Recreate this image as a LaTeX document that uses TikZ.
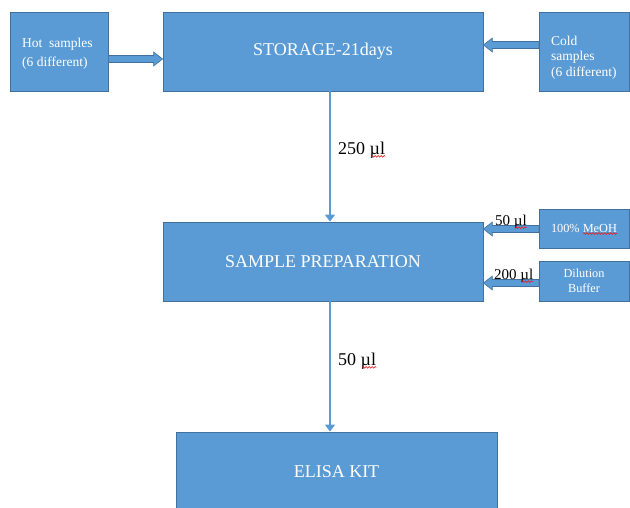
\documentclass[tikz,border=0pt]{standalone}
\usepackage{fontspec}
\setmainfont{Liberation Serif}
\usetikzlibrary{calc,arrows.meta,decorations.pathmorphing}
\definecolor{boxfill}{HTML}{5B9BD5}
\definecolor{boxline}{HTML}{41719C}
\definecolor{wavyred}{HTML}{E02020}
\tikzset{
  box/.style={draw=boxline, fill=boxfill, line width=0.8pt, text=white, inner sep=0pt, align=center},
  bigbox/.style={box, minimum width=320pt, minimum height=79pt, font=\fontsize{18}{22}\selectfont},
  sidebox/.style={box, minimum width=90pt, font=\fontsize{12.3}{15}\selectfont},
  boxtext/.style={text=white, inner sep=0pt, anchor=west, align=left},
  conn/.style={draw=boxfill, line width=1.2pt, -{Triangle[length=7pt,width=10pt]}},
  barrow/.style={draw=boxline, fill=boxfill, line width=0.6pt},
  lab/.style={inner sep=0pt, anchor=west, font=\fontsize{18}{22}\selectfont},
  labsmall/.style={inner sep=0pt, anchor=west, font=\fontsize{15}{18}\selectfont},
  wavy/.style={draw=wavyred, line width=0.6pt, decorate, decoration={snake, segment length=3pt, amplitude=0.9pt}}
}
\newcommand\harrow[3]{\filldraw[barrow] let \p1=(#1), \p2=(#2) in
  (\x1,\y1+3.5pt) -- ({\x2-(#3)},\y1+3.5pt) -- ({\x2-(#3)},\y1+7pt) -- (\x2,\y1)
  -- ({\x2-(#3)},\y1-7pt) -- ({\x2-(#3)},\y1-3.5pt) -- (\x1,\y1-3.5pt) -- cycle;}
\begin{document}
\begin{tikzpicture}[x=1pt,y=-1pt]
\useasboundingbox (0,0) rectangle (630,507);
\begin{scope}
\clip (0,0) rectangle (630,507);
% boxes
\node[box, minimum width=98pt, minimum height=79pt] (hot) at (59,51.5) {};
\node[boxtext, font=\fontsize{13.5}{19}\selectfont] (hottext) at (22,54) {Hot\ \ samples\\(6 different)};
\node[bigbox] (storage) at (323,51.5) {STORAGE-21days};
\node[box, minimum width=90pt, minimum height=79pt] (cold) at (584,51.5) {};
\node[boxtext, font=\fontsize{13.5}{15.5}\selectfont] (coldtext) at (551,57.5) {Cold\\samples\\(6 different)};
\node[bigbox] (sample) at (323,261.5) {SAMPLE PREPARATION};
\node[sidebox, minimum height=39pt] (meoh) at (584,228.5) {100\% MeOH};
\node[sidebox, minimum height=40pt] (dil) at (584,281) {Dilution\\Buffer};
\node[bigbox, minimum width=321pt] (elisa) at (336.5,471.5) {ELISA KIT};
% helper coordinates
\coordinate (vx) at (330,0);
\coordinate (ya) at (0,59);
\coordinate (yb) at (0,45);
\coordinate (yc) at (0,229);
\coordinate (yd) at (0,283);
% vertical connectors
\draw[conn] (storage.south -| vx) -- (sample.north -| vx);
\draw[conn] (sample.south -| vx) -- (elisa.north -| vx);
% block arrows
\harrow{hot.east |- ya}{storage.west |- ya}{9pt}
\harrow{cold.west |- yb}{storage.east |- yb}{-9pt}
\harrow{meoh.west |- yc}{sample.east |- yc}{-9pt}
\harrow{dil.west |- yd}{sample.east |- yd}{-9pt}
% labels
\node[lab] (l250) at (338,150) {250 µl};
\node[lab] (l50a) at (338,361) {50 µl};
\node[labsmall] (l50b) at (495,222) {50 µl};
\node[labsmall] (l200) at (494,276) {200 µl};
% spelling underlines
\draw[wavy] ($(l250.base east)+(-14,2)$) -- ($(l250.base east)+(0,2)$);
\draw[wavy] ($(l50a.base east)+(-14,2)$) -- ($(l50a.base east)+(0,2)$);
\draw[wavy] ($(l50b.base east)+(-12,2)$) -- ($(l50b.base east)+(0,2)$);
\draw[wavy] ($(l200.base east)+(-12,2)$) -- ($(l200.base east)+(0,2)$);
\draw[wavy] ($(meoh.center)+(-1,5)$) -- ($(meoh.center)+(33,5)$);
\end{scope}
\end{tikzpicture}
\end{document}
